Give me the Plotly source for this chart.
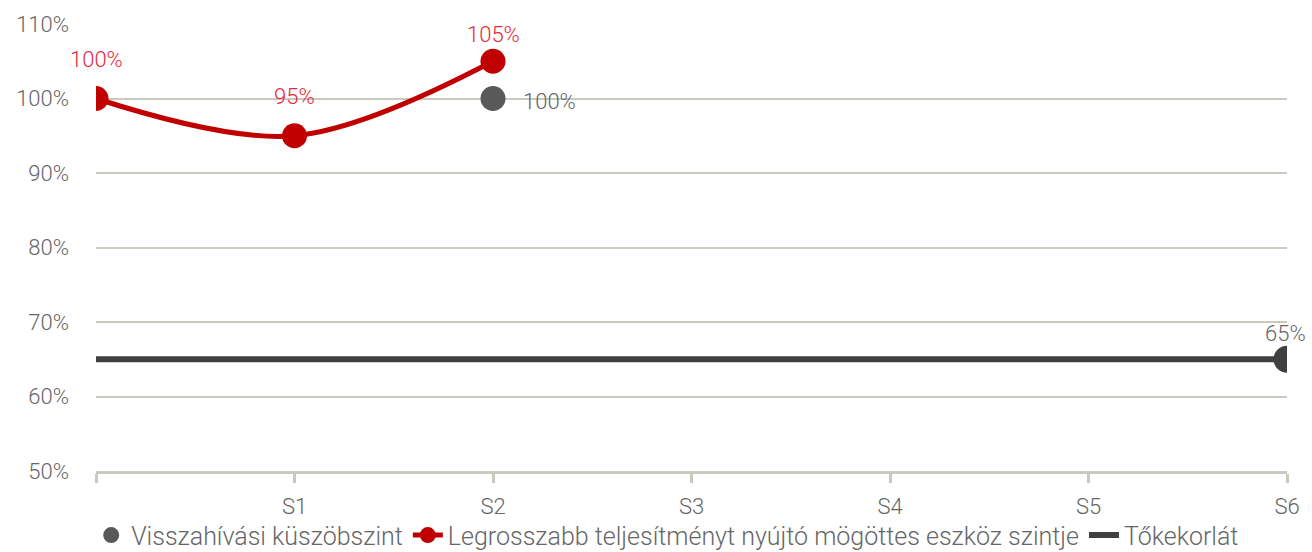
import plotly.graph_objects as go

# Observation dates (first point is the start, unlabeled)
categories = ["", "S1", "S2", "S3", "S4", "S5", "S6"]
worst_perf = [100, 95, 105]          # worst-performing underlying, % of initial
callback_level = [None, None, 100]   # autocall threshold shown at S2
capital_barrier = [65] * 7           # capital protection barrier
y_ticks = [50, 60, 70, 80, 90, 100, 110]

FONT = "Roboto, 'Liberation Sans', sans-serif"
RED = "#c00000"
RED_TXT = "#e8283c"
GREY_PT = "#595959"
DARK = "#404040"
GRID = "#c9cabd"
TXT = "#666666"

x_all = list(range(len(categories)))

fig = go.Figure()

fig.add_trace(go.Scatter(
    x=[x_all[i] for i, v in enumerate(callback_level) if v is not None],
    y=[v for v in callback_level if v is not None],
    mode="markers",
    marker=dict(size=25, color=GREY_PT),
    name="Visszahívási küszöbszint",
))

fig.add_trace(go.Scatter(
    x=x_all[:len(worst_perf)], y=worst_perf,
    mode="lines+markers",
    line=dict(color=RED, width=5, shape="spline", smoothing=1),
    marker=dict(size=25, color=RED),
    name="Legrosszabb teljesítményt nyújtó mögöttes eszköz szintje",
))

fig.add_trace(go.Scatter(
    x=x_all, y=capital_barrier,
    mode="lines",
    line=dict(color=DARK, width=6),
    name="Tőkekorlát",
))

fig.add_trace(go.Scatter(
    x=[x_all[-1]], y=[capital_barrier[-1]],
    mode="markers",
    marker=dict(size=27, color=DARK),
    showlegend=False,
))

# value labels
for i, v in enumerate(worst_perf):
    fig.add_annotation(x=x_all[i], y=v, text=f"{v}%", showarrow=False,
                       yshift=27 if v >= 105 else 39,
                       font=dict(family=FONT, size=22, color=RED_TXT))
for i, v in enumerate(callback_level):
    if v is not None:
        fig.add_annotation(x=x_all[i], y=v, text=f"{v}%", showarrow=False,
                           xanchor="left", xshift=28, yshift=-3,
                           font=dict(family=FONT, size=22, color=TXT))
fig.add_annotation(x=x_all[-1], y=capital_barrier[-1], text=f"{capital_barrier[-1]}%",
                   showarrow=False, yshift=26, xshift=-2,
                   font=dict(family=FONT, size=22, color=TXT))

fig.update_layout(
    width=1312, height=552,
    margin=dict(l=96, r=25, t=24, b=81, autoexpand=False),
    plot_bgcolor="white", paper_bgcolor="white",
    font=dict(family=FONT, size=22, color=TXT, weight=300),
    showlegend=True,
    legend=dict(orientation="h", x=0.48, xanchor="center", y=-0.144, yanchor="middle",
                font=dict(family=FONT, size=25, color=TXT), itemwidth=30,
                bgcolor="rgba(0,0,0,0)"),
    xaxis=dict(
        range=[0, 6], tickmode="array", tickvals=x_all, ticktext=categories,
        showgrid=False, zeroline=False,
        showline=True, linecolor=GRID, linewidth=3,
        ticks="outside", ticklen=9, tickwidth=3, tickcolor=GRID,
        ticklabelstandoff=5,
        tickfont=dict(family=FONT, size=22, color=TXT),
    ),
    yaxis=dict(
        range=[50, 110], tickmode="array", tickvals=y_ticks,
        ticktext=[f"{t}%" for t in y_ticks],
        showgrid=True, gridcolor=GRID, gridwidth=2,
        zeroline=False, showline=False, ticks="",
        ticklabelstandoff=26,
        tickfont=dict(family=FONT, size=22, color=TXT),
    ),
)

fig.write_html("out.html")
